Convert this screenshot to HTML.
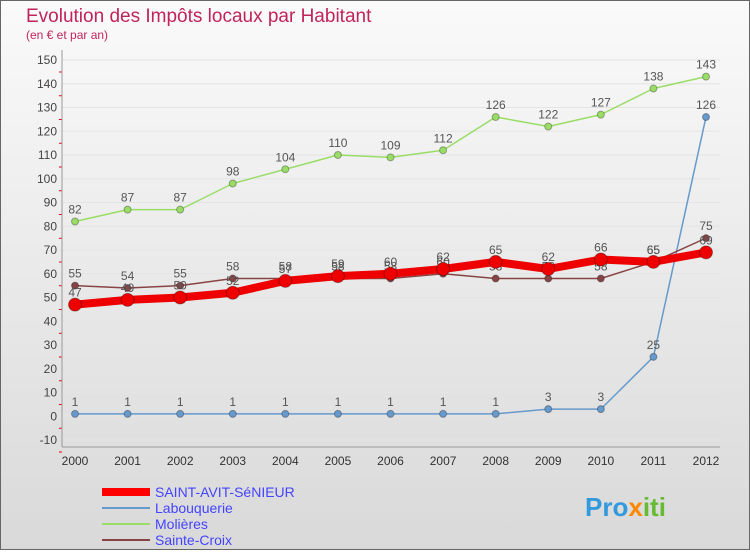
<!DOCTYPE html>
<html><head><meta charset="utf-8"><style>
body{margin:0;width:750px;height:550px;overflow:hidden;font-family:"Liberation Sans",sans-serif}
svg text{font-family:"Liberation Sans",sans-serif}
</style></head><body>
<svg id="c" width="750" height="550" xmlns="http://www.w3.org/2000/svg">
<defs><linearGradient id="bg" x1="0" y1="0" x2="0" y2="1"><stop offset="0" stop-color="#fafafa"/><stop offset="1" stop-color="#d9d9d9"/></linearGradient></defs>
<rect x="0.5" y="0.5" width="749" height="549" fill="url(#bg)" stroke="#666"/>
<text x="26" y="22" font-size="19" fill="#c0245c">Evolution des Impôts locaux par Habitant</text>
<text x="26" y="39" font-size="12" fill="#c0245c">(en € et par an)</text>
<g id="grid"></g><g id="axes"></g><g id="series"></g>
<g>
<line x1="102" y1="492" x2="150" y2="492" stroke="#f00" stroke-width="8"/>
<text x="155" y="497" font-size="14" fill="#44f">SAINT-AVIT-SéNIEUR</text>
<line x1="102" y1="508" x2="150" y2="508" stroke="#6699cc" stroke-width="2"/>
<text x="155" y="513" font-size="14" fill="#44f">Labouquerie</text>
<line x1="102" y1="524" x2="150" y2="524" stroke="#99dd66" stroke-width="2"/>
<text x="155" y="529" font-size="14" fill="#44f">Molières</text>
<line x1="102" y1="540" x2="150" y2="540" stroke="#884444" stroke-width="2"/>
<text x="155" y="545" font-size="14" fill="#44f">Sainte-Croix</text>
</g>
<text x="585" y="516" font-size="26" font-weight="bold" fill="#3399dd">Pro<tspan fill="#ff8800">x</tspan><tspan fill="#66bb33">iti</tspan></text>
</svg>
<script>
const years=[2000,2001,2002,2003,2004,2005,2006,2007,2008,2009,2010,2011,2012];
const yTicks=[-10,0,10,20,30,40,50,60,70,80,90,100,110,120,130,140,150];
const saintAvit=[47,49,50,52,57,59,60,62,65,62,66,65,69];
const labouquerie=[1,1,1,1,1,1,1,1,1,3,3,25,126];
const molieres=[82,87,87,98,104,110,109,112,126,122,127,138,143];
const sainteCroix=[55,54,55,58,58,58,58,60,58,58,58,65,75];
const NS="http://www.w3.org/2000/svg";
const X=i=>75+i*(706-75)/(years.length-1);
const Y=v=>440-(v+10)*(380/160);
function mk(t,a,p){const e=document.createElementNS(NS,t);for(const k in a)e.setAttribute(k,a[k]);p.appendChild(e);return e;}
const grid=document.getElementById('grid'),axes=document.getElementById('axes'),ser=document.getElementById('series');
yTicks.forEach(v=>{
 const l=mk('line',{x1:62,x2:720,y1:Y(v),y2:Y(v),stroke:'#e4e4e4','stroke-width':1},grid);
 
 
 const tk=mk('line',{x1:59,x2:62,y1:Y(v)+12,y2:Y(v)+12,stroke:'#e00'},axes);
 
 
 const t=mk('text',{x:57,y:Y(v)+4,'font-size':12,'text-anchor':'end',fill:'#444'},axes);
 t.textContent=v;
 
 
});
const ya=mk('line',{x1:62,x2:62,y1:50,y2:447,stroke:'#999'},axes);


const xa=mk('line',{x1:62,x2:720,y1:447,y2:447,stroke:'#999'},axes);


years.forEach((y,i)=>{
 const t=mk('text',{x:X(i),y:465,'font-size':12,'text-anchor':'middle',fill:'#333'},axes);
 t.textContent=y;
 
 
});
function draw(name,vals,color,w,r){
 const g=mk('g',{},ser);
 
 
 const p=mk('polyline',{points:vals.map((v,i)=>X(i)+','+Y(v)).join(' '),fill:'none',stroke:color,'stroke-width':w,'stroke-linejoin':'round'},g);
 
 
 vals.forEach((v,i)=>{
  const c=mk('circle',{cx:X(i),cy:Y(v),r:r,fill:color,stroke:'rgba(0,0,0,0.3)'},g);
  
  
  const t=mk('text',{x:X(i),y:Y(v)-8,'font-size':12,'text-anchor':'middle',fill:'#555'},g);
  t.textContent=v;
  
  
 });
}
draw('molieres',molieres,'#99dd66',1.5,3.5);
draw('labouquerie',labouquerie,'#6699cc',1.5,3.5);
draw('sainte-croix',sainteCroix,'#884444',1.5,3.5);
draw('saint-avit',saintAvit,'#ee0000',8,6.5);
</script>
</body></html>
